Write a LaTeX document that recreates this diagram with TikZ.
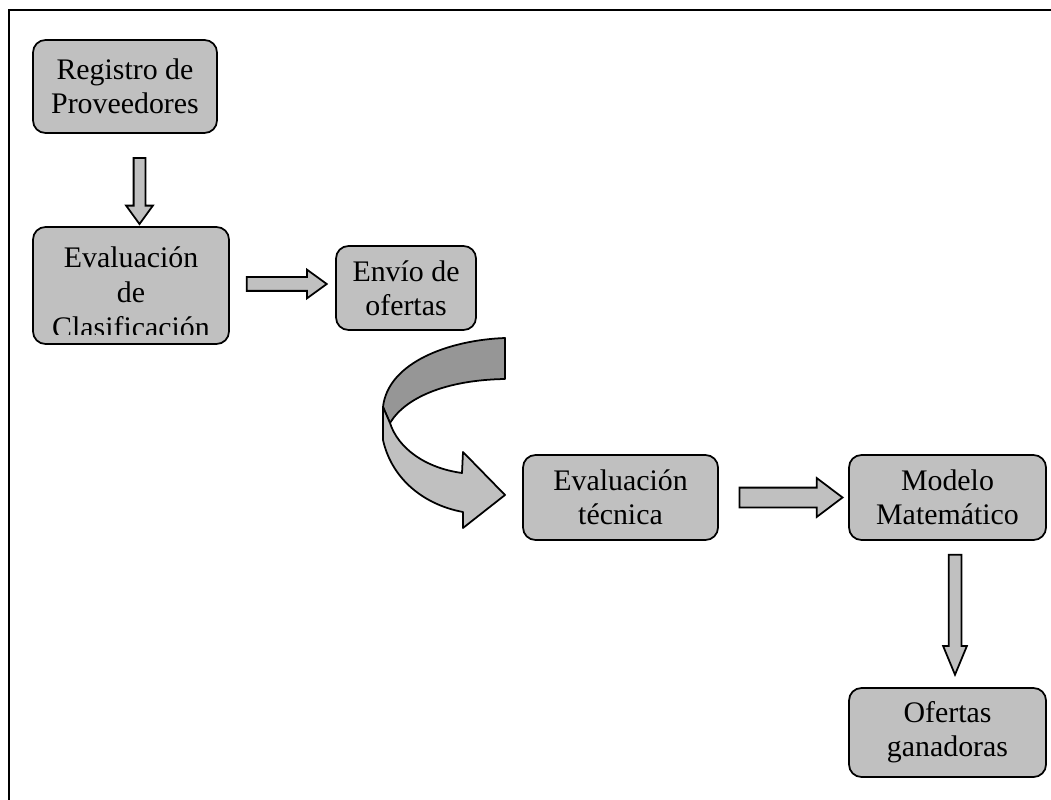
\documentclass[tikz,border=0pt]{standalone}
\usepackage{fontspec}
\setmainfont{Liberation Serif}
\usepackage{xcolor}
\usepackage{tikz}
\usetikzlibrary{shapes.arrows,calc}
\definecolor{cajagris}{RGB}{192,192,192}
\definecolor{cintagris}{RGB}{150,150,150}
\newcommand{\px}{0.02cm}
\tikzset{
  caja/.style={draw=black, fill=cajagris, line width=1pt, rounded corners=0.25cm,
    align=center, inner sep=0pt, font=\fontsize{17}{19.5}\selectfont},
  flecha/.style={single arrow, draw=black, fill=cajagris, line width=1pt,
    inner sep=#1*\px},
  cinta/.style={draw=black, line width=1pt, line join=round},
}
\begin{document}
\begin{tikzpicture}[x=\px,y=-\px]
	\useasboundingbox (0,0) rectangle (1051,800);
	\draw[line width=1.2pt] (9,800) -- (9,10) -- (1051,10);
	% cajas
	\node[caja, minimum width=184*\px, minimum height=93*\px] (registro) at (125,86.5) {Registro de\\Proveedores};
	\node[caja, minimum width=196*\px, minimum height=117*\px,
		path picture={
			\clip ([yshift=9*\px]path picture bounding box.south west) rectangle (path picture bounding box.north east);
			\node[font=\fontsize{17}{20}\selectfont, align=center, anchor=north, inner sep=0pt]
				at ([yshift=-6*\px]path picture bounding box.north) {Evaluación\\de\\Clasificación};
		}] (clasif) at (131,285.5) {};
	\node[caja, minimum width=140*\px, minimum height=84*\px] (envio) at (406,288) {Envío de\\ofertas};
	\node[caja, minimum width=195*\px, minimum height=85*\px] (tecnica) at (620.5,497.5) {Evaluación\\técnica};
	\node[caja, minimum width=197*\px, minimum height=85*\px] (modelo) at (947.5,497.5) {Modelo\\Matemático};
	\node[caja, minimum width=197*\px, minimum height=89*\px] (ganadoras) at (947.5,732.5) {Ofertas\\ganadoras};
	% flechas
	\node[flecha=5, minimum height=66*\px, single arrow head extend=7.5*\px,
		single arrow tip angle=72, shape border rotate=270] (f1) at (139.5,187) {};
	\node[flecha=6, minimum height=80*\px, single arrow head extend=7.5*\px,
		single arrow tip angle=72] (f2) at (282,284) {};
	\node[flecha=9, minimum height=103*\px, single arrow head extend=9.5*\px,
		single arrow tip angle=74] (f3) at (784.5,497.5) {};
	\node[flecha=5.5, minimum height=120*\px, single arrow head extend=5.5*\px,
		single arrow tip angle=45, shape border rotate=270] (f4) at (955,607) {};
	% flecha curva
	\draw[cinta, fill=cintagris] (505,338) .. controls (450,340) and (388,362) .. (383,407)
		-- (390,423) .. controls (405,398) and (445,380) .. (505,379) -- cycle;
	\draw[cinta, fill=cajagris] (383,407) -- (383,440) .. controls (392,480) and (425,505) .. (463,512)
		-- (463,528) -- (505,495) -- (463,452) -- (462,473)
		.. controls (425,468) and (398,448) .. (390,423) -- cycle;
\end{tikzpicture}
\end{document}
